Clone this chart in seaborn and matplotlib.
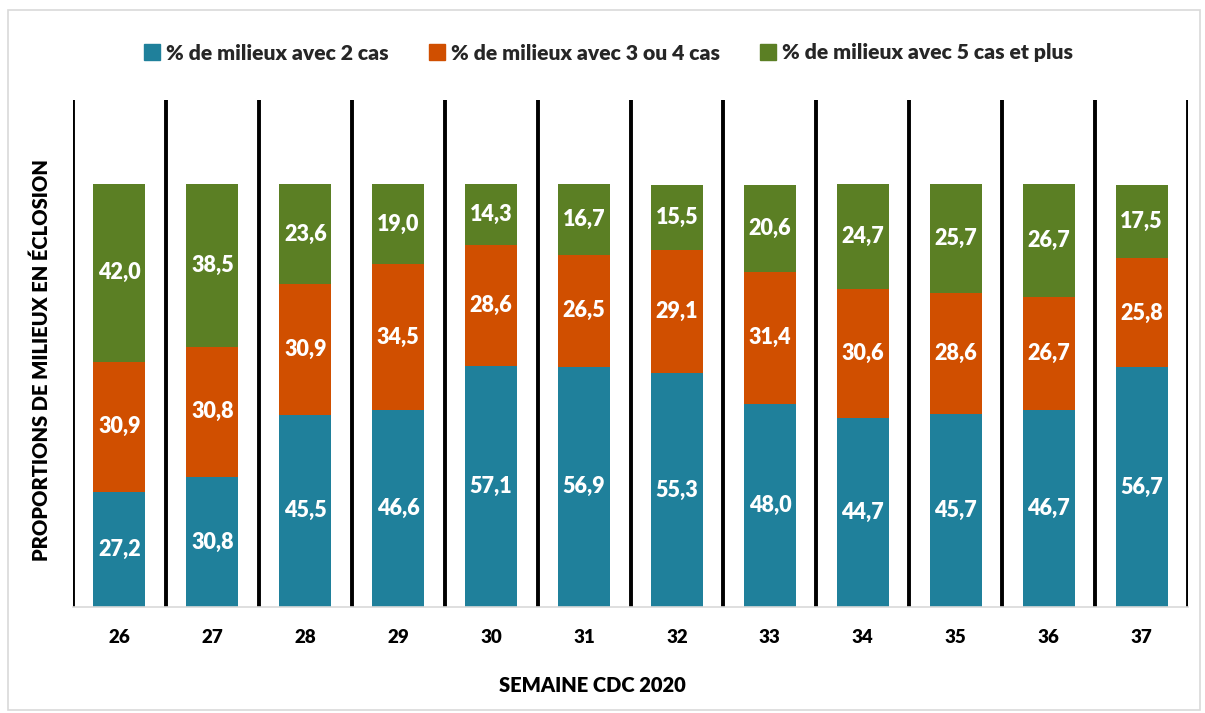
import matplotlib
matplotlib.use("Agg")
import matplotlib.pyplot as plt
import seaborn as sns
import numpy as np
from matplotlib.patches import Patch, Rectangle

weeks = ["26", "27", "28", "29", "30", "31", "32", "33", "34", "35", "36", "37"]
pct_2 = [27.2, 30.8, 45.5, 46.6, 57.1, 56.9, 55.3, 48.0, 44.7, 45.7, 46.7, 56.7]
pct_3_4 = [30.9, 30.8, 30.9, 34.5, 28.6, 26.5, 29.1, 31.4, 30.6, 28.6, 26.7, 25.8]
pct_5p = [42.0, 38.5, 23.6, 19.0, 14.3, 16.7, 15.5, 20.6, 24.7, 25.7, 26.7, 17.5]
series_names = ["% de milieux avec 2 cas", "% de milieux avec 3 ou 4 cas",
                "% de milieux avec 5 cas et plus"]
colors = ["#1F809B", "#D04F00", "#5B7F24"]

W = 'heavy'
sns.set_theme(style="white")
plt.rcParams['font.family'] = ['Lato', 'DejaVu Sans']
plt.rcParams['font.weight'] = W

fig = plt.figure(figsize=(12.05, 7.13), dpi=100)
ax = fig.add_axes([73/1205, 1-607/713, (1188-73)/1205, (607-100)/713])

bottom = np.zeros(len(weeks))
for vals, col, name in zip([pct_2, pct_3_4, pct_5p], colors, series_names):
    sns.barplot(x=weeks, y=vals, bottom=bottom.copy(), color=col, width=0.56,
                ax=ax, saturation=1, edgecolor=col, linewidth=0)
    cont = ax.containers[-1]
    ax.bar_label(cont, labels=[f"{v:.1f}".replace('.', ',') for v in vals],
                 label_type='center', color='white', fontsize=15.5, fontweight=W)
    bottom += np.array(vals)

ax.set_ylim(0, 120)
ax.set_xlim(-0.5, len(weeks) - 0.5)
ax.set_yticks([])
ax.set_xticks(np.arange(-0.5, len(weeks), 1.0), minor=True)
ax.grid(which='minor', axis='x', color='black', linewidth=2.8)
ax.grid(which='major', visible=False)
ax.set_axisbelow(True)
ax.tick_params(axis='x', which='both', length=0, pad=16)
for lbl in ax.get_xticklabels():
    lbl.set_fontsize(13.5)
    lbl.set_fontweight(W)
    lbl.set_color('black')
for s in ['top', 'right', 'left']:
    ax.spines[s].set_visible(False)
ax.spines['bottom'].set_color('#D9D9D9')
ax.spines['bottom'].set_linewidth(1.2)

ax.set_xlabel("SEMAINE CDC 2020", fontsize=14.5, fontweight=W, color='black')
ax.xaxis.set_label_coords((592-73)/(1188-73), (607-676)/507)
ax.set_ylabel("PROPORTIONS DE MILIEUX EN ÉCLOSION", fontsize=14.5, fontweight=W,
              color='black')
ax.yaxis.set_label_coords((51-73)/(1188-73), (607-360)/507)

handles = [Patch(facecolor=c, edgecolor=c) for c in colors]
fig.legend(handles, series_names, loc='center', bbox_to_anchor=(0.505, 1-53/713),
           ncol=3, frameon=False, prop={'family': 'Lato', 'weight': W, 'size': 15.2},
           handlelength=0.75, handleheight=0.75, handletextpad=0.3, columnspacing=1.9)

fig.patches.append(Rectangle((8/1205, 1-710/713), (1200-8)/1205, (710-10)/713,
                             transform=fig.transFigure, fill=False,
                             edgecolor='#D9D9D9', linewidth=1.2))

fig.savefig("out.png", dpi=100)
